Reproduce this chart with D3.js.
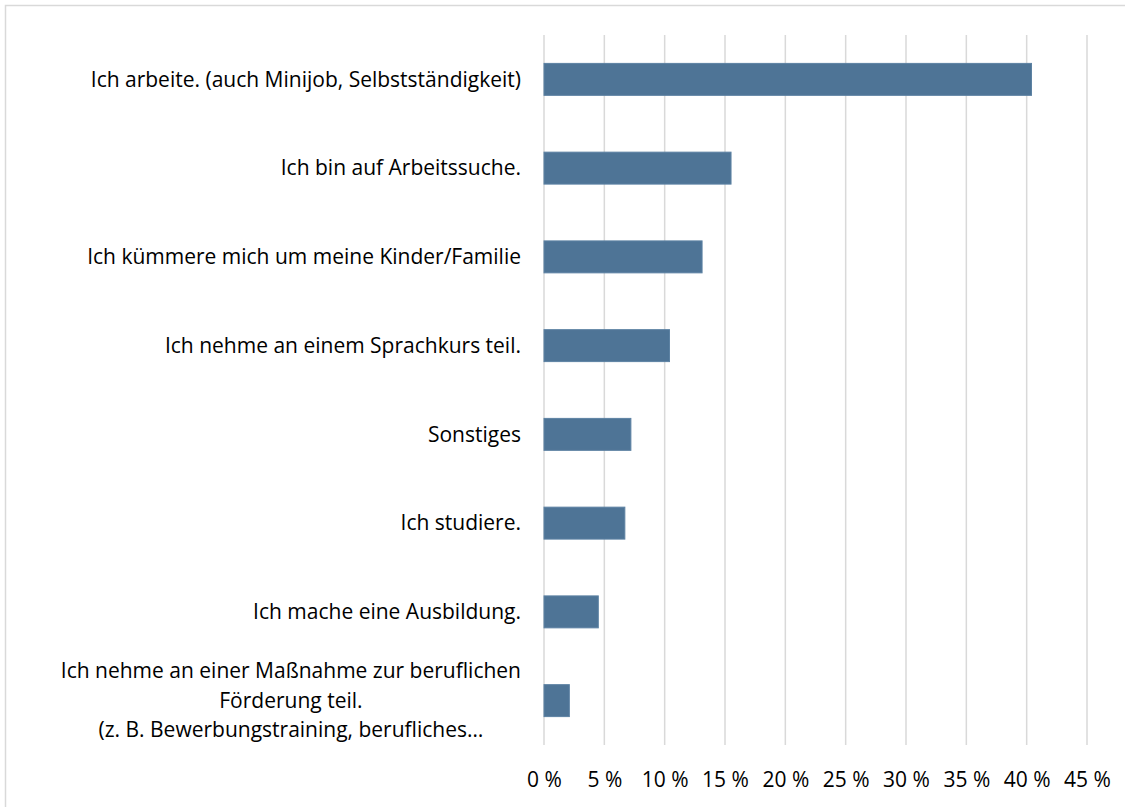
<!DOCTYPE html>
<html>
<head>
<meta charset="utf-8">
<script src="https://cdn.jsdelivr.net/npm/d3@7"></script>
<style>
  html, body { margin: 0; padding: 0; background: #fff; }
  text { font-family: "Open Sans", Lato, sans-serif; fill: #000; }
</style>
</head>
<body>
<div id="chart-container"></div>
<script>
// categories, top to bottom (multi-line labels use an array)
var categories = [
  ['Ich arbeite. (auch Minijob, Selbstständigkeit)'],
  ['Ich bin auf Arbeitssuche.'],
  ['Ich kümmere mich um meine Kinder/Familie'],
  ['Ich nehme an einem Sprachkurs teil.'],
  ['Sonstiges'],
  ['Ich studiere.'],
  ['Ich mache eine Ausbildung.'],
  ['Ich nehme an einer Maßnahme zur beruflichen', 'Förderung teil.', '(z. B. Bewerbungstraining, berufliches…']
];
var values = [40.4, 15.5, 13.1, 10.4, 7.2, 6.7, 4.5, 2.1];
var tickValues = [0, 5, 10, 15, 20, 25, 30, 35, 40, 45];

var svgWidth = 1125,
    svgHeight = 807,
    margin = { top: 35, right: 38, bottom: 62, left: 544 },
    width = svgWidth - margin.left - margin.right,
    height = svgHeight - margin.top - margin.bottom;

var svg = d3.select('#chart-container').append('svg')
  .attr('width', svgWidth).attr('height', svgHeight);

// chart frame (only top and left edge fall inside the picture)
svg.append('rect')
  .attr('x', 5.5).attr('y', 5.5)
  .attr('width', svgWidth).attr('height', svgHeight)
  .attr('fill', '#fff')
  .attr('stroke', '#d9d9d9')
  .attr('stroke-width', 1.5);

var g = svg.append('g').attr('transform', 'translate(' + margin.left + ',' + margin.top + ')');

var x = d3.scaleLinear().domain([0, 45]).range([0, width]);
var y = d3.scaleBand()
  .domain(d3.range(categories.length))
  .range([0, height])
  .paddingInner(0.64)
  .paddingOuter(0.32);

// vertical gridlines
g.append('g').selectAll('line')
  .data(tickValues)
  .enter().append('line')
  .attr('x1', function(d) { return x(d); })
  .attr('x2', function(d) { return x(d); })
  .attr('y1', 0)
  .attr('y2', height)
  .attr('stroke', '#d9d9d9')
  .attr('stroke-width', 1.5);

// bottom axis, labels only
var xAxis = g.append('g').attr('class', 'axis axis-x')
  .attr('transform', 'translate(0,' + height + ')')
  .call(d3.axisBottom(x).tickValues(tickValues).tickSize(0).tickPadding(27)
    .tickFormat(function(d) { return d + ' %'; }));
xAxis.select('.domain').remove();
xAxis.selectAll('text')
  .style('font-size', '21px')
  .style('font-family', '"Open Sans", Lato, sans-serif')
  .attr('fill', '#000');

// bars
g.selectAll('.bar')
  .data(values)
  .enter().append('rect')
  .attr('class', 'bar')
  .attr('x', x(0))
  .attr('y', function(d, i) { return y(i); })
  .attr('width', function(d) { return x(d) - x(0); })
  .attr('height', y.bandwidth())
  .attr('fill', '#4e7496')
  .attr('stroke', '#5d82a3')
  .attr('stroke-width', 1);

// category labels (multi-line ones are centred as a block, block right-aligned)
var labelRight = -23,
    lineHeight = 29.5;

categories.forEach(function(lines, i) {
  var cy = y(i) + y.bandwidth() / 2;
  var lg = g.append('g').attr('class', 'cat-label');
  var texts = lines.map(function(line, j) {
    return lg.append('text')
      .attr('y', cy + (j - (lines.length - 1) / 2) * lineHeight)
      .attr('dy', '0.35em')
      .style('font-size', '21px')
      .text(line);
  });
  if (lines.length === 1) {
    texts[0].attr('x', labelRight).attr('text-anchor', 'end');
  } else {
    var maxW = d3.max(texts, function(t) { return t.node().getComputedTextLength(); });
    texts.forEach(function(t) {
      t.attr('x', labelRight - maxW / 2).attr('text-anchor', 'middle');
    });
  }
});
</script>
</body>
</html>
